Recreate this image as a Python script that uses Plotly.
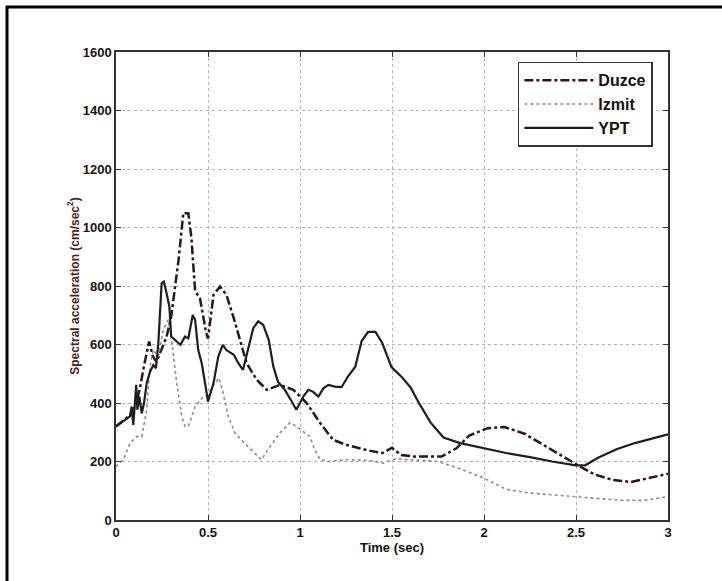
import plotly.graph_objects as go

# ---- data ----
duzce_t = [0.00, 0.03, 0.06, 0.09, 0.11, 0.13, 0.15, 0.18, 0.20, 0.22, 0.25, 0.275, 0.30, 0.34,
           0.366, 0.393, 0.41, 0.43, 0.456, 0.49, 0.50, 0.53, 0.565, 0.60, 0.64, 0.674, 0.71,
           0.765, 0.82, 0.89, 0.964, 1.036, 1.11, 1.18, 1.25, 1.37, 1.45, 1.50, 1.55, 1.62,
           1.77, 1.85, 1.92, 2.02, 2.11, 2.22, 2.32, 2.42, 2.51, 2.60, 2.70, 2.80, 2.90, 3.00]
duzce_v = [320, 335, 350, 370, 400, 450, 520, 610, 560, 540, 590, 627, 695, 889,
           1050, 1048, 964, 782, 759, 640, 620, 770, 798, 770, 690, 611, 536,
           479, 445, 462, 445, 400, 331, 274, 257, 238, 229, 247, 222, 217,
           217, 245, 289, 314, 318, 295, 257, 219, 187, 156, 137, 130, 143, 158]

izmit_t = [0.00, 0.04, 0.076, 0.112, 0.14, 0.167, 0.185, 0.203, 0.23, 0.257, 0.284, 0.30,
           0.33, 0.357, 0.375, 0.393, 0.43, 0.466, 0.50, 0.538, 0.56, 0.583, 0.61, 0.647,
           0.69, 0.746, 0.79, 0.837, 0.89, 0.946, 0.98, 1.018, 1.054, 1.08, 1.11, 1.16,
           1.25, 1.37, 1.45, 1.52, 1.62, 1.75, 1.87, 2.00, 2.12, 2.25, 2.37, 2.50, 2.62,
           2.75, 2.87, 3.00]
izmit_v = [183, 206, 262, 285, 285, 377, 525, 582, 559, 650, 684, 627,
           468, 354, 320, 320, 388, 416, 428, 468, 485, 433, 354, 297,
           268, 234, 206, 251, 297, 333, 320, 302, 285, 240, 206, 200,
           206, 204, 194, 209, 206, 200, 175, 143, 105, 92, 86, 80, 73,
           67, 67, 80]

ypt_t = [0.00, 0.04, 0.076, 0.085, 0.094, 0.11, 0.116, 0.127, 0.14, 0.152, 0.167, 0.185,
         0.203, 0.217, 0.23, 0.248, 0.26, 0.275, 0.29, 0.30, 0.33, 0.35, 0.375, 0.393,
         0.417, 0.43, 0.447, 0.466, 0.484, 0.50, 0.53, 0.556, 0.58, 0.60, 0.64, 0.665,
         0.69, 0.72, 0.746, 0.773, 0.80, 0.83, 0.855, 0.88, 0.918, 0.955, 0.98, 1.018,
         1.045, 1.07, 1.10, 1.127, 1.154, 1.19, 1.226, 1.26, 1.30, 1.335, 1.37, 1.41,
         1.447, 1.497, 1.55, 1.60, 1.65, 1.71, 1.78, 1.87, 2.00, 2.12, 2.25, 2.37, 2.50,
         2.55, 2.62, 2.72, 2.82, 2.92, 3.00]
ypt_v = [320, 337, 354, 388, 325, 462, 377, 422, 365, 399, 468, 507,
         530, 519, 604, 809, 815, 775, 730, 627, 610, 599, 627, 621,
         701, 684, 581, 536, 468, 405, 468, 559, 599, 581, 565, 536,
         513, 593, 656, 679, 667, 616, 525, 473, 445, 405, 377, 422,
         445, 439, 422, 450, 462, 456, 454, 490, 523, 612, 643, 643,
         605, 523, 491, 454, 396, 333, 282, 263, 245, 229, 215, 200, 187,
         187, 213, 242, 263, 280, 293]

x_ticks = [0, 0.5, 1, 1.5, 2, 2.5, 3]
x_tick_text = ["0", "0.5", "1", "1.5", "2", "2.5", "3"]
y_ticks = [0, 200, 400, 600, 800, 1000, 1200, 1400, 1600]

FONT = "Liberation Sans, Arial, Helvetica, sans-serif"

fig = go.Figure()
fig.add_trace(go.Scatter(x=duzce_t, y=duzce_v, mode="lines", name="Duzce",
                         line=dict(color="#2e1616", width=2.5, dash="dashdot")))
fig.add_trace(go.Scatter(x=izmit_t, y=izmit_v, mode="lines", name="Izmit",
                         line=dict(color="#8a8a8a", width=1.6, dash="dot")))
fig.add_trace(go.Scatter(x=ypt_t, y=ypt_v, mode="lines", name="YPT",
                         line=dict(color="#1e1e1e", width=2.2)))

tick_font = dict(family=FONT, size=13, color="#1a1010", weight="bold")

fig.update_layout(
    width=722, height=581,
    margin=dict(l=116, r=54, t=52, b=61),
    paper_bgcolor="white", plot_bgcolor="white",
    showlegend=True,
    legend=dict(x=0.728, y=0.979, xanchor="left", yanchor="top",
                bordercolor="#333333", borderwidth=1.5, bgcolor="white",
                font=dict(family=FONT, size=16, color="#111111", weight="bold"),
                itemwidth=69, tracegroupgap=0),
    xaxis=dict(range=[0, 3], tickvals=x_ticks, ticktext=x_tick_text,
               showgrid=True, gridcolor="#b4b4b4", griddash="dot", gridwidth=1,
               showline=True, linecolor="#333333", linewidth=1.5, mirror="ticks",
               ticks="inside", ticklen=5, tickcolor="#333333",
               zeroline=False, tickfont=tick_font,
               title=dict(text="Time (sec)",
                          font=dict(family=FONT, size=13, color="#111111", weight="bold"),
                          standoff=2)),
    yaxis=dict(range=[0, 1600], tickvals=y_ticks,
               showgrid=True, gridcolor="#b4b4b4", griddash="dot", gridwidth=1,
               showline=True, linecolor="#333333", linewidth=1.5, mirror="ticks",
               ticks="inside", ticklen=5, tickcolor="#333333",
               zeroline=False, tickfont=tick_font,
               title=dict(text="Spectral acceleration (cm/sec<sup>2</sup>)",
                          font=dict(family=FONT, size=12, color="#4a1e1e", weight="bold"),
                          standoff=1)),
)

# outer frame (top and left edges only, as in the reference)
fig.add_shape(type="line", xref="paper", yref="paper",
              x0=(6 - 116) / 552, x1=(722 - 116) / 552, y0=(520 - 7) / 468, y1=(520 - 7) / 468,
              line=dict(color="black", width=3))
fig.add_shape(type="line", xref="paper", yref="paper",
              x0=(7 - 116) / 552, x1=(7 - 116) / 552, y0=(520 - 6) / 468, y1=(520 - 581) / 468,
              line=dict(color="black", width=3))

fig.write_html("out.html", config={"displayModeBar": False},
               post_script="document.body.style.margin='0';")
